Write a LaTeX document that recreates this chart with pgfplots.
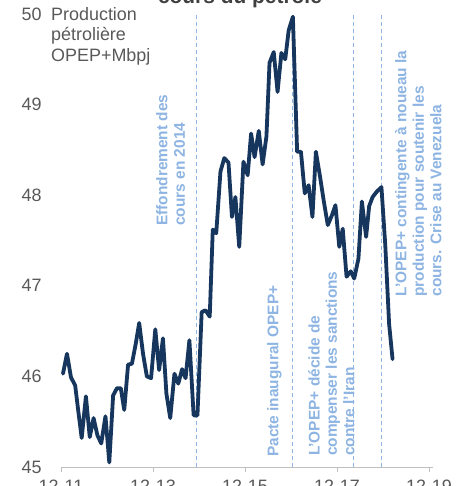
\documentclass[border=0pt]{standalone}
\usepackage{pgfplots}
\pgfplotsset{compat=1.18}
\usepackage{fontspec}
\setmainfont{Liberation Sans}
\definecolor{linecol}{RGB}{23,54,93}
\definecolor{annot}{RGB}{141,180,226}
\definecolor{txtgray}{RGB}{89,89,89}
\definecolor{titlegray}{RGB}{64,64,64}
\definecolor{axgray}{RGB}{191,191,191}
\begin{document}
\begin{tikzpicture}
\begin{axis}[name=ax, scale only axis, width=371.8bp, height=453bp,
 xmin=0, xmax=97, ymin=45, ymax=50,
 axis x line*=bottom, axis y line*=left,
 y axis line style={draw=none},
 x axis line style={draw=axgray, line width=0.8bp, -},
 xtick={0,24,48,72,96}, xticklabels={12-11,12-13,12-15,12-17,12-19},
 ytick={45,46,47,48,49,50},
 ytick style={draw=none},
 xtick style={draw=axgray, line width=0.8bp},
 tick align=outside, major tick length=5bp,
 tick label style={font=\fontsize{18}{21}\selectfont, text=txtgray},
 /pgf/number format/assume math mode=true,
 yticklabel style={xshift=-11bp},
 xticklabel style={yshift=-4bp},
 clip=false,
]
\addplot[annot, line width=1.1bp, dash pattern=on 4bp off 3bp] coordinates {(35.4,45) (35.4,50)};
\addplot[annot, line width=1.1bp, dash pattern=on 4bp off 3bp] coordinates {(60.45,45) (60.45,50)};
\addplot[annot, line width=1.1bp, dash pattern=on 4bp off 3bp] coordinates {(76.4,45) (76.4,50)};
\addplot[annot, line width=1.1bp, dash pattern=on 4bp off 3bp] coordinates {(83.55,45) (83.55,50)};
\addplot[linecol, line width=3.8bp, line join=round, line cap=round, mark=none] coordinates {
(0.52,46.03) (1.56,46.25) (2.6,45.99) (3.7,45.90) (4.5,45.62) (5.4,45.32)
(6.5,45.78) (7.5,45.33) (8.5,45.54) (9.5,45.35) (10.5,45.26) (11.6,45.56)
(12.6,45.05) (13.6,45.79) (14.6,45.87) (15.6,45.87) (16.5,45.63) (17.5,46.13)
(18.5,46.14) (19.5,46.36) (20.4,46.59) (21.4,46.25) (22.4,46.00) (23.5,45.98)
(24.6,46.52) (25.6,46.07) (26.6,46.42) (27.5,45.81) (28.5,45.54) (29.6,46.03)
(30.6,45.92) (31.6,46.08) (32.5,45.98) (33.5,46.40) (34.6,45.57) (35.6,45.57)
(36.7,46.71) (37.7,46.73) (38.8,46.66) (39.6,47.62) (40.5,47.58) (41.6,48.26)
(42.6,48.41) (43.7,48.36) (44.6,47.76) (45.5,47.98) (46.5,47.43) (47.6,48.37)
(48.7,48.22) (49.6,48.68) (50.5,48.42) (51.6,48.71) (52.6,48.34) (53.6,48.65)
(54.4,49.46) (55.5,49.58) (56.5,49.14) (57.5,49.57) (58.5,49.50) (59.4,49.82)
(60.5,49.97) (61.6,48.48) (62.6,48.48) (63.6,48.02) (64.6,48.11) (65.6,47.76)
(66.5,48.48) (67.6,48.20) (68.5,47.95) (69.6,47.67) (70.7,47.78) (71.6,47.89)
(72.6,47.43) (73.5,47.63) (74.5,47.10) (75.6,47.16) (76.5,47.08) (77.6,47.30)
(78.5,47.93) (79.6,47.54) (80.4,47.88) (81.3,47.98) (82.4,48.04) (83.6,48.09)
(84.6,47.45) (85.6,46.58) (86.5,46.19)
};
\node[anchor=north west, inner sep=0pt, align=left, text=txtgray,
  font=\fontsize{18}{20.7}\selectfont] at (axis cs:-2.61,50.077)
  {Production\\pétrolière\\OPEP+Mbpj};
\node[anchor=base, inner sep=0pt, text=titlegray,
  font=\bfseries\fontsize{21}{24}\selectfont] at (axis cs:46.7,50.116)
  {cours du pétrole};
\begin{scope}[every node/.style={rotate=90, anchor=north west, inner sep=0pt,
  align=left, text=annot, font=\bfseries\fontsize{15.5}{17.5}\selectfont}]
\node at (axis cs:24.78,47.66) {Effondrement des\\cours en 2014};
\node at (axis cs:53.74,45.11) {Pacte inaugural OPEP+};
\node at (axis cs:64.44,45.12) {L'OPEP+ décide de\\compenser les sanctions\\contre l'Iran};
\node at (axis cs:87.13,46.88) {L'OPEP+ contingente à noueau la\\production pour soutenir les\\cours. Crise au Venezuela};
\end{scope}
\end{axis}
\pgfresetboundingbox
\path[use as bounding box] ([shift={(-61bp,-19bp)}]ax.south west) rectangle ([shift={(410bp,467bp)}]ax.south west);
\end{tikzpicture}
\end{document}
